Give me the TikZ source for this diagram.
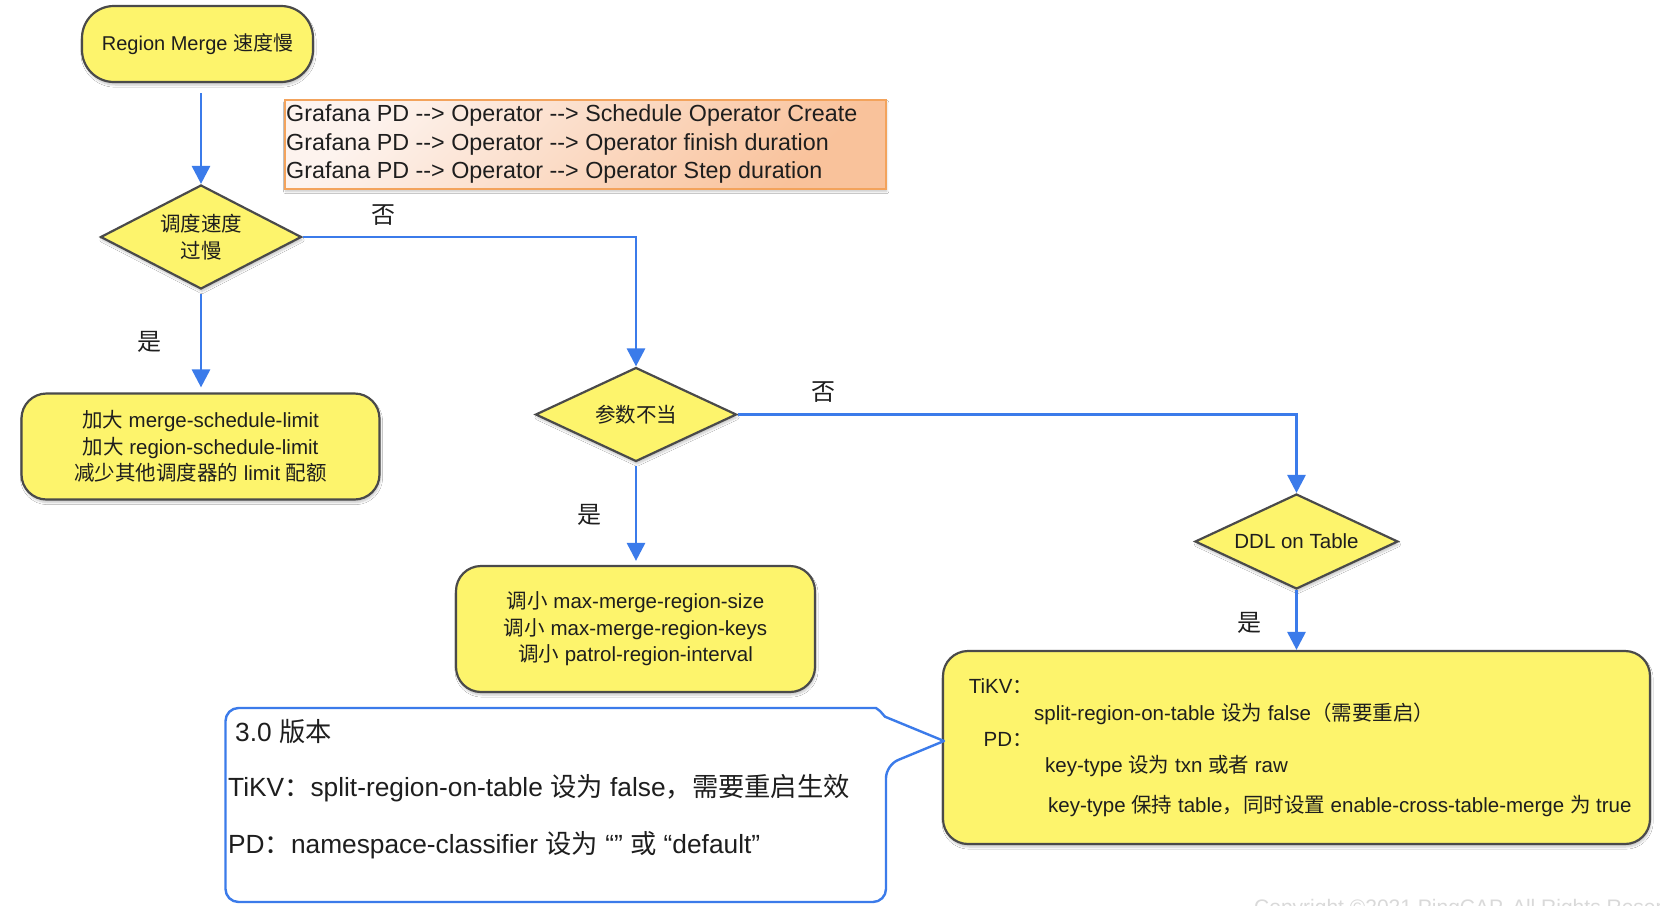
\documentclass[tikz,border=0pt]{standalone}
\usepackage{fontspec}
\setmainfont{Liberation Sans}
\newfontfamily\cjk{Noto Sans CJK SC}
\newcommand{\zhtxt}[1]{{\cjk #1}}
\newcommand{\arrtxt}{-\kern0pt-\kern0pt>}
\usetikzlibrary{shapes.geometric,arrows.meta,shadows.blur,calc}
\definecolor{ylw}{HTML}{FDF46C}
\definecolor{edgegray}{HTML}{4A4A4A}
\definecolor{arrowblue}{HTML}{3B7BEA}
\definecolor{orgedge}{HTML}{F3A35C}
\definecolor{orglight}{HTML}{FDF3EE}
\definecolor{orgdark}{HTML}{F9C29B}
\definecolor{txt}{HTML}{1E1E1E}
\begin{document}
\begin{tikzpicture}[x=1pt,y=-1pt,
  base/.style={font=\fontsize{20.5}{26.5}\selectfont, text=txt, inner sep=0pt},
  shade/.style={blur shadow={shadow blur steps=6, shadow xshift=1pt, shadow yshift=-3pt, shadow opacity=22}},
  box/.style={base, shade, draw=edgegray, line width=2.2pt, fill=ylw, rounded corners=25pt, align=center},
  dec/.style={base, shade, shape=diamond, draw=edgegray, line width=2.2pt, fill=ylw, align=center},
  arr/.style={draw=arrowblue, line width=2.9pt, -{Triangle[width=18pt,length=18pt]}},
  lbl/.style={font=\cjk\fontsize{24}{24}\selectfont, text=txt, inner sep=0pt},
  orangebox/.style={shade, draw=orgedge, line width=2pt, top color=orglight, bottom color=orgdark, shading angle=45},
  callout/.style={draw=arrowblue, line width=2.4pt, fill=white, line join=round},
  cotext/.style={base, font=\fontsize{26.3}{30}\selectfont, anchor=west},
  ln/.style={base, anchor=west}
]
\useasboundingbox (0,0) rectangle (1660,905);
\clip (0,0) rectangle (1660,905);
\fill[white] (0,0) rectangle (1660,905);

% start
\node[box, font=\fontsize{20}{26.5}\selectfont, rounded corners=32pt, minimum width=231pt, minimum height=76pt] (start) at (197.5,44) {Region Merge \zhtxt{速度慢}};

% orange info box
\node[orangebox, anchor=north west, minimum width=601pt, minimum height=89pt, inner sep=0pt] (ob) at (283.7,98.5) {};
\node[base, anchor=west, font=\fontsize{23.3}{28.6}\selectfont, align=left] (obt) at (286,144)
  {Grafana PD \arrtxt{} Operator \arrtxt{} Schedule Operator Create\\
   Grafana PD \arrtxt{} Operator \arrtxt{} Operator finish duration\\
   Grafana PD \arrtxt{} Operator \arrtxt{} Operator Step duration};

% decision 1
\node[dec, aspect=1.93, minimum width=201pt, minimum height=104pt] (d1) at (201,237) {\zhtxt{调度速度}\\\zhtxt{过慢}};

% box 1
\node[box, minimum width=358pt, minimum height=106pt] (b1) at (200.5,446.5)
  {\zhtxt{加大} merge-schedule-limit\\\zhtxt{加大} region-schedule-limit\\\zhtxt{减少其他调度器的} limit \zhtxt{配额}};

% decision 2
\node[dec, aspect=2.14, minimum width=201pt, minimum height=94pt] (d2) at (636,414.5) {\zhtxt{参数不当}};

% box 2
\node[box, minimum width=359pt, minimum height=126pt] (b2) at (635.5,629)
  {\zhtxt{调小} max-merge-region-size\\\zhtxt{调小} max-merge-region-keys\\\zhtxt{调小} patrol-region-interval};

% decision 3
\node[dec, aspect=2.14, minimum width=203pt, minimum height=95pt] (d3) at (1296.5,541.5) {DDL on Table};

% box 3
\node[box, minimum width=707pt, minimum height=193pt] (b3) at (1296.5,747.5) {};
\node[ln] (b3a) at (968.7,686) {TiKV\zhtxt{：}};
\node[ln] (b3b) at (1034,714) {split-region-on-table \zhtxt{设为} false\zhtxt{（需要重启）}};
\node[ln] (b3c) at (983.5,739) {PD\zhtxt{：}};
\node[ln] (b3d) at (1045,766.5) {key-type \zhtxt{设为} txn \zhtxt{或者} raw};
\node[ln] (b3e) at (1048,806) {key-type \zhtxt{保持} table\zhtxt{，同时设置} enable-cross-table-merge \zhtxt{为} true};

% callout
\path[callout] (876,708) [rounded corners=13pt] -- (225.5,708) -- (225.5,902) -- (886,902) -- (886,765)
  [sharp corners] -- (944,741) -- (885,716.7) -- (880,711) -- cycle;
\node[cotext] (c1) at (235,731.7) {3.0 \zhtxt{版本}};
\node[cotext] (c2) at (228,788) {TiKV\zhtxt{：}split-region-on-table \zhtxt{设为} false\zhtxt{，需要重启生效}};
\node[cotext] (c3) at (228,845) {PD\zhtxt{：}namespace-classifier \zhtxt{设为} “” \zhtxt{或} “default”};

% connectors
\draw[arr, shorten <=10pt] (start.south -| d1.north) -- (d1.north);
\draw[arr] (d1.east) -| (d2.north);
\draw[arr, shorten <=4pt, shorten >=5pt] (d1.south) -- (d1.south |- b1.north);
\draw[arr, shorten <=3pt, shorten >=4pt] (d2.south) -- (d2.south |- b2.north);
\draw[arr] (d2.east) -| (d3.north);
\draw[arr] (d3.south) -- (d3.south |- b3.north);

% labels
\node[lbl] (n1) at (383,215) {否};
\node[lbl] (y1) at (149,342) {是};
\node[lbl] (n2) at (823,392) {否};
\node[lbl] (y2) at (589,515) {是};
\node[lbl] (y3) at (1249,623) {是};

% faint footer
\node[base, anchor=north west, text=black!15, font=\fontsize{21}{21}\selectfont] (wm) at (1254,899) {Copyright ©2021 PingCAP. All Rights Reserved.};
\end{tikzpicture}
\end{document}
